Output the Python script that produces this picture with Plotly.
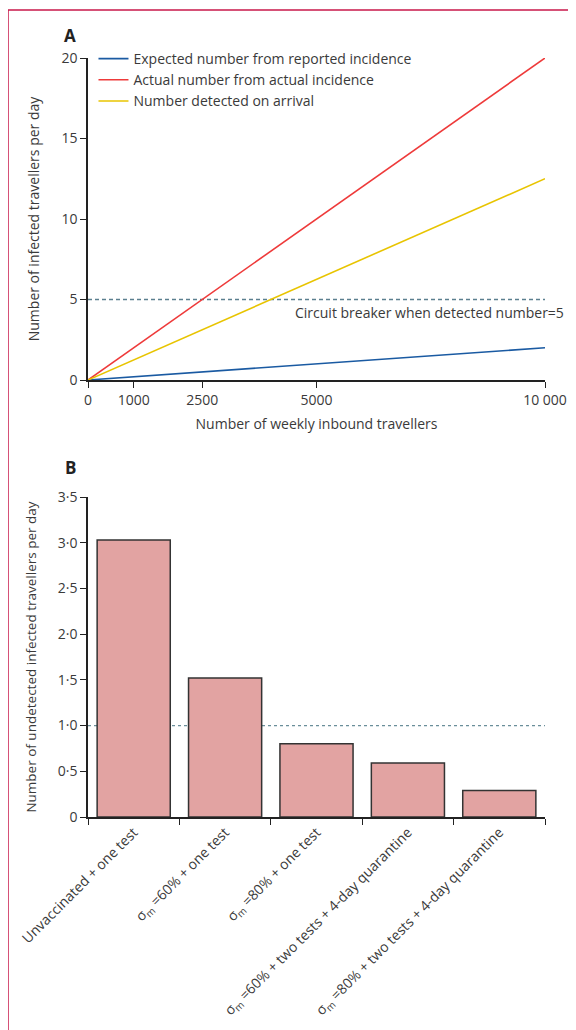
import plotly.graph_objects as go

# ---- Data ----
travellers = [0, 10000]
expected_reported = [0, 2.0]
actual_actual = [0, 20.0]
detected_arrival = [0, 12.5]
circuit_breaker = 5

bar_categories = [
    "Unvaccinated + one test",
    "σ<sub>m</sub> =60% + one test",
    "σ<sub>m</sub> =80% + one test",
    "σ<sub>m</sub> =60% + two tests + 4-day quarantine",
    "σ<sub>m</sub> =80% + two tests + 4-day quarantine",
]
bar_values = [3.03, 1.52, 0.80, 0.59, 0.29]
bar_threshold = 1.0

a_yticks = [0, 5, 10, 15, 20]
a_xticks = [0, 1000, 2500, 5000, 10000]
a_xticklabels = ["0", "1000", "2500", "5000", "10 000"]
b_yticks = [0, 0.5, 1.0, 1.5, 2.0, 2.5, 3.0, 3.5]
b_yticklabels = ["0", "0·5", "1·0", "1·5", "2·0", "2·5", "3·0", "3·5"]

# ---- Layout geometry (figure px; page body adds an 8px offset) ----
OFF = 8
W, H = 576 - OFF, 1030 - OFF
L, R = 88 - OFF, 545 - OFF
PW = R - L


def px_x(x):
    return (x - OFF - L) / PW


def px_y(y):
    return 1 - (y - OFF) / H


FONT = "Open Sans"
TXT = "#3a3a3a"
AX = "#222222"

fig = go.Figure()

fig.add_trace(go.Scatter(x=travellers, y=expected_reported, mode="lines",
                         line=dict(color="#1a5aa2", width=1.6),
                         name="Expected number from reported incidence",
                         xaxis="x", yaxis="y"))
fig.add_trace(go.Scatter(x=travellers, y=actual_actual, mode="lines",
                         line=dict(color="#ee3a3a", width=1.6),
                         name="Actual number from actual incidence",
                         xaxis="x", yaxis="y"))
fig.add_trace(go.Scatter(x=travellers, y=detected_arrival, mode="lines",
                         line=dict(color="#e8c400", width=1.6),
                         name="Number detected on arrival",
                         xaxis="x", yaxis="y"))

fig.add_trace(go.Bar(x=bar_categories, y=bar_values,
                     marker=dict(color="#e2a3a2", line=dict(color="#333333", width=1.5)),
                     width=0.8, showlegend=False, xaxis="x2", yaxis="y2"))

# dashed reference lines
fig.add_shape(type="line", xref="x", yref="y", x0=0, x1=10000,
              y0=circuit_breaker, y1=circuit_breaker,
              line=dict(color="#5b7f8f", width=1.3, dash="4px,3px"), layer="below")
fig.add_shape(type="line", xref="x2 domain", yref="y2", x0=0, x1=1,
              y0=bar_threshold, y1=bar_threshold,
              line=dict(color="#6a8e9a", width=1.3, dash="3px,3px"), layer="below")

fig.add_annotation(xref="x", yref="y", x=10000, y=circuit_breaker, yshift=-13, xshift=21,
                   text="Circuit breaker when detected number=5", showarrow=False,
                   xanchor="right", yanchor="middle",
                   font=dict(family=FONT, size=14, color=TXT))

# panel letters
fig.add_annotation(xref="paper", yref="paper", x=px_x(70), y=px_y(35), text="<b>A</b>",
                   showarrow=False, xanchor="center", yanchor="middle",
                   font=dict(family=FONT, size=17, color="#222"))
fig.add_annotation(xref="paper", yref="paper", x=px_x(70), y=px_y(467), text="<b>B</b>",
                   showarrow=False, xanchor="center", yanchor="middle",
                   font=dict(family=FONT, size=17, color="#222"))

axis_common = dict(showline=True, linecolor=AX, linewidth=1.5, ticks="outside",
                   ticklen=6, tickwidth=1.2, tickcolor=AX, showgrid=False,
                   zeroline=False, automargin=False,
                   tickfont=dict(family=FONT, size=14, color=TXT))

fig.update_layout(
    width=W, height=H,
    margin=dict(l=L, r=W - R, t=0, b=0),
    paper_bgcolor="white", plot_bgcolor="white",
    font=dict(family=FONT, color=TXT),
    bargap=0.2,
    xaxis=dict(domain=[0, 1], anchor="y", range=[0, 10000],
               tickvals=a_xticks, ticktext=a_xticklabels,
               title=dict(text="Number of weekly inbound travellers",
                          font=dict(family=FONT, size=14, color=TXT), standoff=12),
               **axis_common),
    yaxis=dict(domain=[px_y(380), px_y(58)], anchor="x", range=[0, 20],
               tickvals=a_yticks,
               title=dict(text="Number of infected travellers per day",
                          font=dict(family=FONT, size=14, color=TXT), standoff=19),
               **axis_common),
    xaxis2=dict(domain=[0, 1], anchor="y2", type="category", range=[-0.5, 4.5],
                tickson="boundaries", tickangle=-45, **axis_common),
    yaxis2=dict(domain=[px_y(817), px_y(497)], anchor="x2", range=[0, 3.5],
                tickvals=b_yticks, ticktext=b_yticklabels,
                title=dict(text="Number of undetected infected travellers per day",
                           font=dict(family=FONT, size=13.5, color=TXT), standoff=18),
                **axis_common),
    legend=dict(x=0.012, y=px_y(43), xref="paper", yref="paper",
                xanchor="left", yanchor="top", bgcolor="rgba(0,0,0,0)",
                font=dict(family=FONT, size=14, color=TXT), tracegroupgap=0,
                itemwidth=30),
)

# outer crimson frame (top and left edges)
fig.add_shape(type="line", xref="paper", yref="paper",
              x0=px_x(8), x1=px_x(576), y0=px_y(10), y1=px_y(10),
              line=dict(color="#c8174a", width=1.5))
fig.add_shape(type="line", xref="paper", yref="paper",
              x0=px_x(8), x1=px_x(8), y0=px_y(10), y1=px_y(1030),
              line=dict(color="#c8174a", width=1.5))

fig.write_html("out.html")
